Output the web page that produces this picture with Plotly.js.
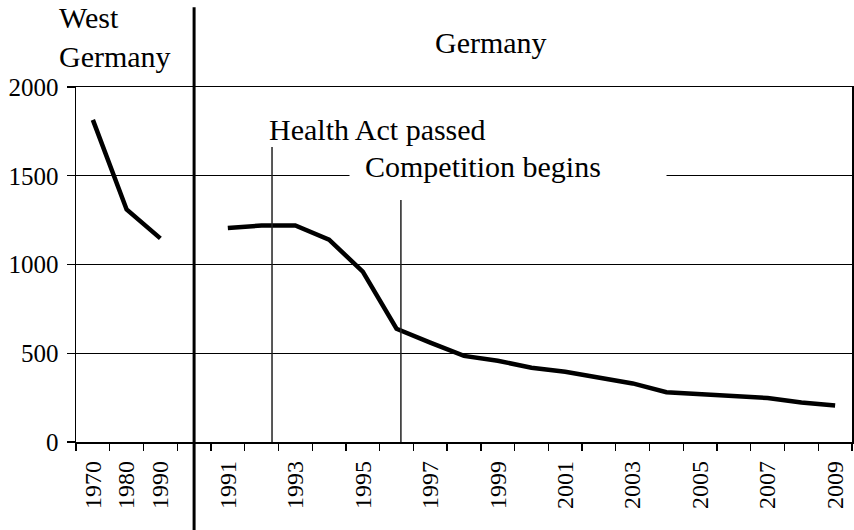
<!DOCTYPE html>
<html>
<head>
<meta charset="utf-8">
<script src="https://cdn.plot.ly/plotly-3.0.1.min.js"></script>
<style>
  html, body { margin: 0; padding: 0; background: #fff; }
  #chart { width: 854px; height: 530px; }
</style>
</head>
<body>
<div id="chart"></div>
<script>
// categories: West Germany decades, an empty gap, then unified Germany years
let years = ["1970", "1980", "1990", " ",
  "1991", "1992", "1993", "1994", "1995", "1996", "1997", "1998", "1999", "2000",
  "2001", "2002", "2003", "2004", "2005", "2006", "2007", "2008", "2009"];

// only every other year is labelled after reunification
let yearLabels = ["1970", "1980", "1990", "",
  "1991", "", "1993", "", "1995", "", "1997", "", "1999", "",
  "2001", "", "2003", "", "2005", "", "2007", "", "2009"];

// number of sickness funds
let funds = [1815, 1310, 1147, null,
  1205, 1220, 1220, 1140, 960, 638, 560, 485, 458, 418,
  396, 362, 330, 280, 270, 263, 248, 222, 206];

let yTicks = [0, 500, 1000, 1500, 2000];

// event markers, in category index units
let healthActAt = 5.31;
let competitionAt = 9.13;
let dividerAt = 3;

let serif = "Liberation Serif, Times New Roman, serif";

let trace = {
  x: years,
  y: funds,
  type: "scatter",
  mode: "lines",
  connectgaps: false,
  line: { color: "#000", width: 4.5 },
  hoverinfo: "x+y"
};

let layout = {
  width: 854,
  height: 530,
  margin: { l: 76, r: 2, t: 87, b: 88 },
  paper_bgcolor: "#fff",
  plot_bgcolor: "#fff",
  showlegend: false,
  font: { family: serif, size: 24, color: "#000" },
  xaxis: {
    type: "category",
    range: [-0.5, years.length - 0.5],
    tickmode: "array",
    tickvals: years,
    ticktext: yearLabels,
    tickangle: -90,
    tickson: "boundaries",
    ticks: "outside",
    ticklen: 7,
    tickwidth: 1.3,
    tickcolor: "#000",
    ticklabelstandoff: 8,
    showgrid: false,
    showline: true,
    linecolor: "#000",
    linewidth: 1.5,
    mirror: true,
    zeroline: false,
    fixedrange: true,
    tickfont: { family: serif, size: 24, color: "#000" }
  },
  yaxis: {
    range: [0, 2000],
    tickmode: "array",
    tickvals: yTicks,
    ticks: "outside",
    ticklen: 8,
    tickwidth: 1.3,
    tickcolor: "#000",
    ticklabelstandoff: 3,
    showgrid: true,
    gridcolor: "#000",
    gridwidth: 1.2,
    showline: true,
    linecolor: "#000",
    linewidth: 1.5,
    mirror: true,
    zeroline: false,
    fixedrange: true,
    tickfont: { family: serif, size: 25, color: "#000" }
  },
  shapes: [
    {
      type: "line", xref: "x", yref: "paper",
      x0: dividerAt, x1: dividerAt, y0: -0.25, y1: 1.225,
      line: { color: "#000", width: 3 }, layer: "above"
    },
    {
      type: "line", xref: "x", yref: "paper",
      x0: healthActAt, x1: healthActAt, y0: 0, y1: 0.831,
      line: { color: "#222", width: 1.5 }, layer: "above"
    },
    {
      type: "line", xref: "x", yref: "paper",
      x0: competitionAt, x1: competitionAt, y0: 0, y1: 0.682,
      line: { color: "#222", width: 1.5 }, layer: "above"
    }
  ],
  annotations: [
    {
      text: "West<br>Germany", xref: "paper", yref: "paper",
      x: -0.024, y: 1.14, xanchor: "left", yanchor: "middle", align: "left",
      showarrow: false, font: { family: serif, size: 30, color: "#000" }
    },
    {
      text: "Germany", xref: "paper", yref: "paper",
      x: 0.535, y: 1.125, xanchor: "center", yanchor: "middle",
      showarrow: false, font: { family: serif, size: 30, color: "#000" }
    },
    {
      text: "Health Act passed", xref: "paper", yref: "paper",
      x: 0.246, y: 0.88, xanchor: "left", yanchor: "middle",
      showarrow: false, font: { family: serif, size: 30, color: "#000" }
    },
    {
      text: "\u00a0\u00a0Competition begins", xref: "paper", yref: "paper",
      x: 0.352, y: 0.775, xanchor: "left", yanchor: "middle", align: "left",
      width: 316, borderpad: 0, bgcolor: "#fff",
      showarrow: false, font: { family: serif, size: 30, color: "#000" }
    }
  ]
};

Plotly.newPlot("chart", [trace], layout, { displayModeBar: false, staticPlot: true });
</script>
</body>
</html>
